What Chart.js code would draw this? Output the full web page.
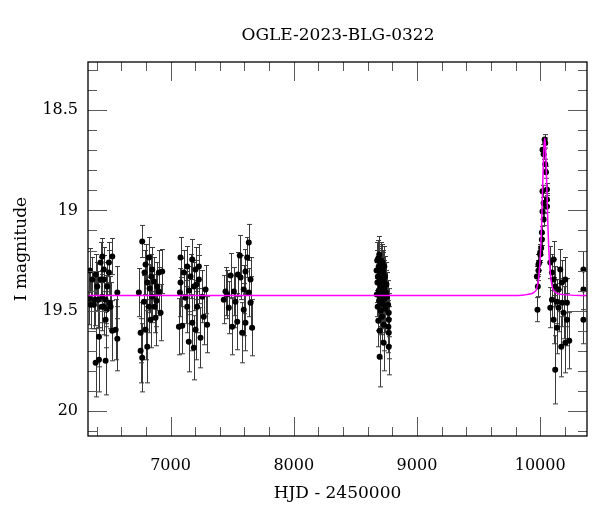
<!DOCTYPE html>
<html>
<head>
<meta charset="utf-8">
<script src="https://cdn.jsdelivr.net/npm/chart.js@4"></script>
<style>
html,body{margin:0;padding:0;background:#fff;}
canvas{display:block;}
</style>
</head>
<body>
<canvas id="c" width="600" height="512"></canvas>
<script>
// ---- data: [HJD-2450000, I mag, error] ----
const season2013 = [
  [6340,19.44,0.13],[6345,19.30,0.11],[6351,19.47,0.12],[6365,19.345,0.11],[6378,19.47,0.12],
  [6386,19.445,0.13],[6392,19.76,0.17],[6392,19.32,0.10],[6405,19.38,0.12],[6413,19.445,0.14],
  [6419,19.745,0.16],[6419,19.63,0.15],[6432,19.26,0.10],[6432,19.345,0.11],[6440,19.48,0.12],
  [6446,19.23,0.09],[6446,19.43,0.13],[6459,19.295,0.11],[6459,19.345,0.12],[6459,19.48,0.14],
  [6473,19.545,0.14],[6473,19.75,0.17],[6473,19.445,0.12],[6479,19.495,0.13],[6486,19.38,0.12],
  [6500,19.26,0.10],[6500,19.31,0.11],[6505,19.46,0.13],[6513,19.48,0.12],[6527,19.60,0.15],
  [6527,19.23,0.09],[6554,19.595,0.15],[6568,19.41,0.13],[6568,19.64,0.16]
];
const season2014 = [
  [6743,19.41,0.12],[6757,19.61,0.15],[6757,19.70,0.16],[6770,19.155,0.08],[6770,19.735,0.17],
  [6784,19.455,0.13],[6789,19.31,0.11],[6797,19.27,0.10],[6797,19.595,0.15],[6811,19.68,0.18],
  [6811,19.36,0.12],[6824,19.235,0.10],[6824,19.48,0.13],[6830,19.39,0.12],[6838,19.545,0.14],
  [6845,19.33,0.11],[6851,19.295,0.11],[6851,19.43,0.13],[6865,19.355,0.12],[6870,19.48,0.13],
  [6878,19.535,0.14],[6885,19.45,0.13],[6892,19.38,0.12],[6905,19.31,0.11],[6905,19.405,0.12],
  [6919,19.51,0.14],[6932,19.305,0.11]
];
const season2015 = [
  [7068,19.58,0.14],[7076,19.41,0.12],[7081,19.235,0.10],[7081,19.36,0.12],[7095,19.575,0.14],
  [7108,19.31,0.11],[7122,19.435,0.13],[7135,19.28,0.10],[7135,19.48,0.13],[7148,19.655,0.15],
  [7150,19.40,0.12],[7162,19.33,0.11],[7176,19.245,0.10],[7176,19.56,0.14],[7189,19.685,0.16],
  [7189,19.38,0.12],[7203,19.295,0.11],[7203,19.595,0.15],[7210,19.37,0.12],[7216,19.48,0.13],
  [7230,19.28,0.11],[7230,19.345,0.12],[7243,19.635,0.15],[7257,19.43,0.13],[7270,19.53,0.14],
  [7284,19.395,0.12],[7297,19.57,0.14]
];
const season2016 = [
  [7432,19.445,0.12],[7446,19.405,0.12],[7460,19.42,0.12],[7473,19.485,0.13],[7487,19.325,0.11],
  [7500,19.58,0.14],[7514,19.405,0.12],[7527,19.455,0.13],[7541,19.555,0.14],[7546,19.32,0.11],
  [7562,19.225,0.10],[7568,19.335,0.11],[7581,19.61,0.15],[7594,19.395,0.12],[7594,19.495,0.13],
  [7608,19.305,0.11],[7608,19.56,0.14],[7622,19.235,0.10],[7635,19.16,0.09],[7635,19.41,0.12],
  [7649,19.345,0.11],[7649,19.46,0.13],[7662,19.585,0.14]
];
const season2019 = [
  [8672,19.30,0.10],[8674,19.42,0.11],[8677,19.25,0.09],[8679,19.36,0.10],[8681,19.48,0.12],
  [8683,19.33,0.10],[8686,19.55,0.13],[8697,19.73,0.15],[8689,19.28,0.09],[8690,19.40,0.11],
  [8692,19.45,0.11],[8694,19.22,0.09],[8695,19.35,0.10],[8697,19.60,0.14],[8700,19.31,0.10],
  [8702,19.43,0.11],[8704,19.27,0.09],[8706,19.50,0.12],[8707,19.38,0.10],[8709,19.34,0.10],
  [8711,19.46,0.12],[8712,19.29,0.09],[8714,19.40,0.11],[8716,19.53,0.12],[8718,19.36,0.10],
  [8720,19.26,0.09],[8730,19.66,0.14],[8724,19.42,0.11],[8726,19.31,0.10],[8728,19.47,0.12],
  [8730,19.35,0.10],[8732,19.57,0.13],[8734,19.39,0.11],[8737,19.44,0.11],[8740,19.33,0.10],
  [8744,19.49,0.12],[8748,19.41,0.11],[8752,19.37,0.11],[8757,19.43,0.12],[8771,19.51,0.12],
  [8771,19.545,0.13],[8771,19.61,0.13],[8771,19.68,0.14],[8766,19.47,0.12],[8768,19.58,0.13],
  [8685,19.24,0.09],[8699,19.32,0.10],[8710,19.25,0.09],[8722,19.30,0.10],[8735,19.28,0.10]
];
const season2023 = [
  [9973,19.33,0.05],[9978,19.495,0.06],[9981,19.38,0.05],[9986,19.30,0.05],[9986,19.27,0.05],
  [9992,19.26,0.04],[10000,19.21,0.04],[10000,19.22,0.04],[10008,19.187,0.035],[10014,19.11,0.03],
  [10014,19.145,0.03],[10019,18.697,0.025],[10019,18.905,0.03],[10019,19.005,0.03],[10028,18.72,0.025],
  [10028,18.963,0.03],[10028,19.046,0.03],[10036,18.647,0.025],[10041,18.664,0.025],[10041,18.77,0.025],
  [10047,18.81,0.03],[10055,18.896,0.03],[10055,18.946,0.03],[10055,18.98,0.03],
  [10082,19.26,0.08],[10082,19.485,0.10],[10095,19.31,0.09],[10095,19.445,0.10],[10109,19.245,0.09],
  [10109,19.345,0.10],[10109,19.545,0.12],[10122,19.38,0.10],[10122,19.795,0.17],[10136,19.585,0.13],
  [10136,19.455,0.11],[10149,19.485,0.12],[10149,19.395,0.11],[10163,19.295,0.10],[10171,19.68,0.15],
  [10177,19.36,0.11],[10177,19.46,0.12],[10190,19.51,0.13],[10204,19.345,0.11],[10204,19.66,0.15],
  [10217,19.46,0.12],[10217,19.545,0.13],[10236,19.65,0.14],
  [10351,19.295,0.09],[10351,19.395,0.10],[10351,19.545,0.12]
];
// ---- model light curve ----
const modelHjd = [6330,9700,9850,9887,9947,9972,9987,9997,10005,10012,10017,10022,10027,10032,10037,
                  10042,10047,10052,10057,10062,10069,10077,10087,10102,10127,10187,10380];
const modelMag = [19.425,19.425,19.423,19.42,19.41,19.39,19.34,19.27,19.18,19.06,18.95,18.84,18.74,18.67,18.64,
                  18.67,18.74,18.84,18.95,19.06,19.18,19.27,19.34,19.39,19.41,19.42,19.425];
// ---- axes ----
const xMajorTicks = [7000,8000,9000,10000];
const yMajorTicks = [18.5,19,19.5,20];
const xMinorStep = 200;
const yMinorStep = 0.1;
const xRange = [6330,10380];
const yRange = [18.26,20.125];
const titleText = 'OGLE-2023-BLG-0322';
const xTitle = 'HJD - 2450000';
const yTitle = 'I magnitude';

const allObs = [].concat(season2013,season2014,season2015,season2016,season2019,season2023);

const FONT = '"DejaVu Serif", "Liberation Serif", serif';

const errorBars = {
  id:'errorBars',
  beforeDatasetsDraw(chart){
    const ctx = chart.ctx, a = chart.chartArea, x = chart.scales.x, y = chart.scales.y;
    ctx.save();
    ctx.beginPath(); ctx.rect(a.left,a.top,a.right-a.left,a.bottom-a.top); ctx.clip();
    ctx.strokeStyle = '#3a3a3a'; ctx.lineWidth = 1;
    const cap = 2.5;
    allObs.forEach(p=>{
      const px = Math.round(x.getPixelForValue(p[0]))+0.5;
      const y1 = y.getPixelForValue(p[1]-p[2]);
      const y2 = y.getPixelForValue(p[1]+p[2]);
      ctx.beginPath();
      ctx.moveTo(px,y1); ctx.lineTo(px,y2);
      ctx.moveTo(px-cap,y1); ctx.lineTo(px+cap,y1);
      ctx.moveTo(px-cap,y2); ctx.lineTo(px+cap,y2);
      ctx.stroke();
    });
    ctx.restore();
  }
};

const frame = {
  id:'frame',
  afterDraw(chart){
    const ctx = chart.ctx, a = chart.chartArea, x = chart.scales.x, y = chart.scales.y;
    ctx.save();
    ctx.fillStyle = '#5a5a5a';
    // x ticks top & bottom (inward)
    const nx0 = Math.ceil(xRange[0]/xMinorStep), nx1 = Math.floor(xRange[1]/xMinorStep);
    for(let k=nx0; k<=nx1; k++){
      const v = k*xMinorStep;
      const major = xMajorTicks.includes(v);
      const L = major ? 19 : 9;
      const px = Math.round(x.getPixelForValue(v));
      ctx.fillRect(px, a.bottom-L, 1, L);
      ctx.fillRect(px, a.top, 1, L);
    }
    // y ticks left & right (inward)
    const ny0 = Math.ceil(yRange[0]/yMinorStep - 1e-6), ny1 = Math.floor(yRange[1]/yMinorStep + 1e-6);
    for(let k=ny0; k<=ny1; k++){
      const v = k*yMinorStep;
      const major = yMajorTicks.some(t=>Math.abs(t-v)<1e-6);
      const L = major ? 19 : 9;
      const py = Math.round(y.getPixelForValue(v));
      ctx.fillRect(a.left, py, L, 1);
      ctx.fillRect(a.right-L, py, L, 1);
    }
    ctx.strokeStyle = '#000'; ctx.lineWidth = 1.3;
    ctx.strokeRect(a.left, a.top, a.right-a.left, a.bottom-a.top);
    // titles
    ctx.fillStyle = '#000';
    ctx.textAlign = 'center'; ctx.textBaseline = 'middle';
    ctx.font = '17px ' + FONT;
    ctx.fillText(titleText, 338, 36);
    ctx.fillText(xTitle, (a.left+a.right)/2, 494);
    ctx.translate(22, (a.top+a.bottom)/2);
    ctx.rotate(-Math.PI/2);
    ctx.fillText(yTitle, 0, 0);
    ctx.restore();
  }
};

new Chart(document.getElementById('c'), {
  type:'scatter',
  data:{
    datasets:[
      {
        type:'line',
        data: modelHjd.map((v,i)=>({x:v, y:modelMag[i]})),
        borderColor:'#ff00ff', borderWidth:1.5, pointRadius:0,
        cubicInterpolationMode:'monotone', fill:false, order:0
      },
      {
        data: allObs.map(p=>({x:p[0], y:p[1]})),
        backgroundColor:'#000', borderColor:'#000', pointRadius:3, borderWidth:0, order:1
      }
    ]
  },
  options:{
    responsive:false, animation:false, devicePixelRatio:1,
    layout:{padding:{top:62, right:13, left:0, bottom:0}},
    plugins:{legend:{display:false}, title:{display:false}, tooltip:{enabled:false}},
    scales:{
      x:{
        type:'linear', min:xRange[0], max:xRange[1],
        grid:{display:false, drawTicks:false},
        border:{display:false},
        afterFit(s){ s.height = 76; },
        afterBuildTicks(s){ s.ticks = xMajorTicks.map(v=>({value:v})); },
        ticks:{color:'#000', font:{family:FONT, size:16}, padding:20, maxRotation:0,
               callback:(v)=>String(v)}
      },
      y:{
        type:'linear', reverse:true, min:yRange[0], max:yRange[1],
        grid:{display:false, drawTicks:false},
        border:{display:false},
        afterFit(s){ s.width = 88; },
        afterBuildTicks(s){ s.ticks = yMajorTicks.map(v=>({value:v})); },
        ticks:{color:'#000', font:{family:FONT, size:16}, padding:10,
               callback:(v)=>String(v)}
      }
    }
  },
  plugins:[errorBars, frame]
});
</script>
</body>
</html>
